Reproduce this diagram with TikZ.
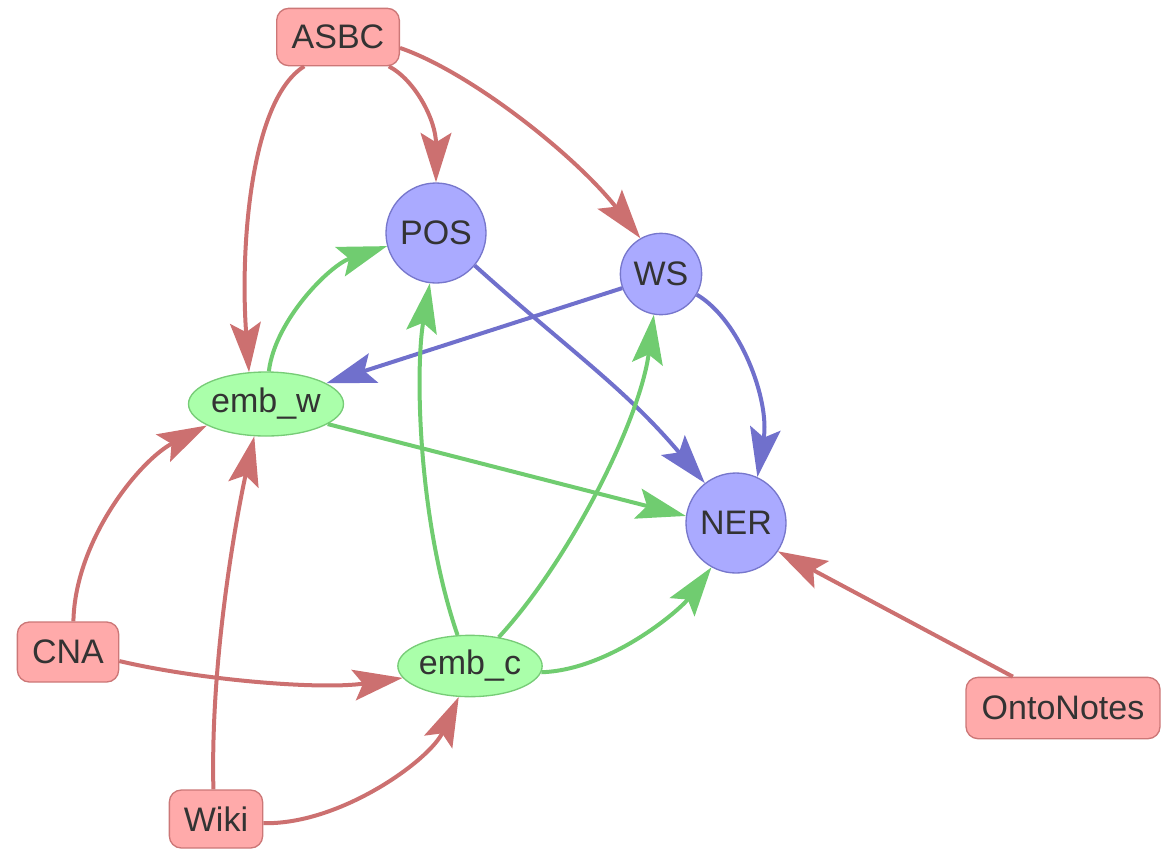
\documentclass[tikz,border=0pt]{standalone}
\usepackage{fontspec}
\setmainfont{Liberation Sans}
\usetikzlibrary{arrows.meta,shapes.geometric}
\definecolor{redfill}{HTML}{FFAAAA}
\definecolor{redline}{HTML}{CC7777}
\definecolor{rededge}{HTML}{CC7070}
\definecolor{bluefill}{HTML}{AAAAFF}
\definecolor{blueline}{HTML}{7777CC}
\definecolor{blueedge}{HTML}{7070CC}
\definecolor{greenfill}{HTML}{AAFFAA}
\definecolor{greenline}{HTML}{77CC77}
\definecolor{greenedge}{HTML}{70CC70}
\definecolor{txt}{HTML}{333333}
\tikzset{
  lbl/.style={font=\fontsize{25.5}{30}\selectfont, text=txt, inner sep=0pt},
  data/.style={lbl, rectangle, rounded corners=9pt, fill=redfill, draw=redline, line width=1pt},
  task/.style={lbl, circle, fill=bluefill, draw=blueline, line width=1pt},
  emb/.style={lbl, ellipse, fill=greenfill, draw=greenline, line width=1pt},
  edge/.style={line width=3pt, -{Stealth[length=37pt,width=23pt,inset=7pt]}},
  redE/.style={edge, draw=rededge},
  blueE/.style={edge, draw=blueedge},
  greenE/.style={edge, draw=greenedge}
}
\begin{document}
\begin{tikzpicture}[x=0.75pt,y=-0.75pt]
\useasboundingbox (0,0) rectangle (1174,850);
% nodes
\node[data, minimum width=92pt, minimum height=43pt] (ASBC) at (338,37) {ASBC};
\node[data, minimum width=76pt, minimum height=45pt] (CNA) at (68,652) {CNA};
\node[data, minimum width=70pt, minimum height=43.5pt] (Wiki) at (216,819) {Wiki};
\node[data, minimum width=145.5pt, minimum height=46pt] (Onto) at (1063,708) {OntoNotes};
\node[task, minimum size=75pt] (POS) at (436,233) {POS};
\node[task, minimum size=61pt] (WS) at (661,274) {WS};
\node[task, minimum size=75pt] (NER) at (736,523) {NER};
\node[emb, minimum width=112.5pt, minimum height=48pt] (embw) at (266,404) {emb\_w};
\node[emb, minimum width=104pt, minimum height=46pt] (embc) at (470,666) {emb\_c};
% red edges
\draw[redE] (ASBC.-30) .. controls (415,80) and (436,120) .. (POS.north);
\draw[redE] (ASBC.-10) .. controls (470,72) and (575,155) .. (WS.120);
\draw[redE] (ASBC.221) .. controls (250,100) and (240,250) .. (embw.118);
\draw[redE] (CNA.80) .. controls (75,540) and (140,460) .. (embw.200);
\draw[redE] (CNA.-10) .. controls (200,680) and (320,690) .. (embc.190);
\draw[redE] (Wiki.95) .. controls (210,650) and (240,500) .. (embw.-110);
\draw[redE] (Wiki.-5) .. controls (340,825) and (430,760) .. (embc.-110);
\draw[redE] (Onto.148) -- (NER.-34);
% blue edges
\draw[blueE] (POS.-40) to[out=-42, in=130] (NER.128);
\draw[blueE] (WS.200) -- (embw.19);
\draw[blueE] (WS.-30) .. controls (740,320) and (770,400) .. (NER.65);
% green edges
\draw[greenE] (embw.85) .. controls (275,320) and (330,265) .. (POS.195);
\draw[greenE] (embw.-18) -- (NER.172);
\draw[greenE] (embc.112) .. controls (418,520) and (415,370) .. (POS.-97);
\draw[greenE] (embc.45) .. controls (570,560) and (640,420) .. (WS.-100);
\draw[greenE] (embc.-5) .. controls (610,670) and (680,610) .. (NER.241);
\end{tikzpicture}
\end{document}
